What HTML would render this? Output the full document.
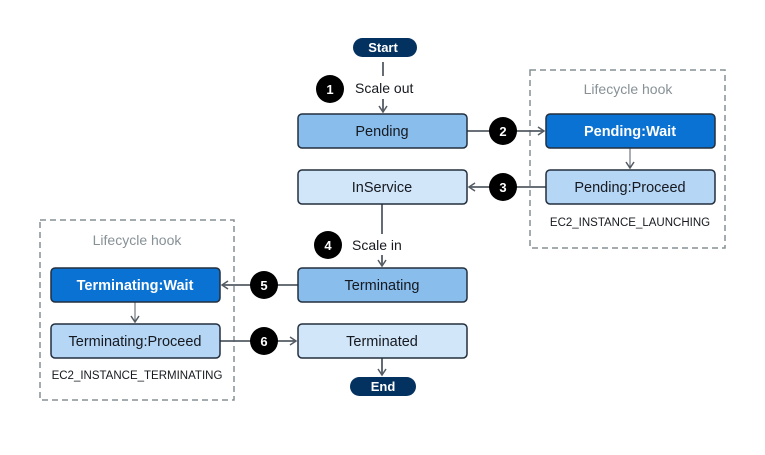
<!DOCTYPE html>
<html><head><style>body{margin:0;background:#fff}</style></head><body>
<svg width="765" height="450" viewBox="0 0 765 450" xmlns="http://www.w3.org/2000/svg" font-family="Liberation Sans, sans-serif">
<defs><marker id="a" markerWidth="10" markerHeight="10" refX="8" refY="5" orient="auto" markerUnits="userSpaceOnUse"><path d="M2,1 L8,5 L2,9" fill="none" stroke="#545b64" stroke-width="1.5"/></marker></defs>
<rect x="530" y="70" width="195" height="178" fill="none" stroke="#879196" stroke-width="1.5" stroke-dasharray="6,4"/>
<rect x="40" y="220" width="194" height="180" fill="none" stroke="#879196" stroke-width="1.5" stroke-dasharray="6,4"/>
<text x="628" y="94" font-size="14" fill="#879196" text-anchor="middle">Lifecycle hook</text>
<text x="137" y="245" font-size="14" fill="#879196" text-anchor="middle">Lifecycle hook</text>
<g stroke="#545b64" stroke-width="1.8" fill="none">
<line x1="383" y1="62" x2="383" y2="76"/>
<line x1="383" y1="99" x2="383" y2="112" marker-end="url(#a)"/>
<line x1="467" y1="131" x2="544" y2="131" marker-end="url(#a)"/>
<line x1="546" y1="187" x2="469" y2="187" marker-end="url(#a)"/>
<line x1="382" y1="204" x2="382" y2="234"/>
<line x1="382" y1="255" x2="382" y2="266" marker-end="url(#a)"/>
<line x1="298" y1="285" x2="222" y2="285" marker-end="url(#a)"/>
<line x1="220" y1="341" x2="296" y2="341" marker-end="url(#a)"/>
<line x1="382" y1="358" x2="382" y2="375" marker-end="url(#a)"/>
</g>
<g stroke="#545b64" stroke-width="1" fill="none">
<line x1="630" y1="148" x2="630" y2="168" marker-end="url(#a)"/>
<line x1="135" y1="302" x2="135" y2="322" marker-end="url(#a)"/>
</g>
<g stroke="#232f3e" stroke-width="1.5">
<rect x="298" y="114" width="169" height="34" rx="4" fill="#88bdec"/>
<rect x="546" y="114" width="169" height="34" rx="4" fill="#0a72d3"/>
<rect x="298" y="170" width="169" height="34" rx="4" fill="#d1e6f9"/>
<rect x="546" y="170" width="169" height="34" rx="4" fill="#b5d6f5"/>
<rect x="298" y="268" width="169" height="34" rx="4" fill="#88bdec"/>
<rect x="51" y="268" width="169" height="34" rx="4" fill="#0a72d3"/>
<rect x="51" y="324" width="169" height="34" rx="4" fill="#b5d6f5"/>
<rect x="298" y="324" width="169" height="34" rx="4" fill="#d1e6f9"/>
</g>
<rect x="353" y="38" width="64" height="19" rx="9.5" fill="#033160"/>
<rect x="350" y="377" width="66" height="19" rx="9.5" fill="#033160"/>
<g font-size="14.5" text-anchor="middle" fill="#16191f">
<text x="383" y="52" fill="#fff" font-weight="bold" font-size="13">Start</text>
<text x="383" y="391" fill="#fff" font-weight="bold" font-size="13">End</text>
<text x="382" y="136">Pending</text>
<text x="630" y="136" fill="#fff" font-weight="bold">Pending:Wait</text>
<text x="382" y="192">InService</text>
<text x="630" y="192">Pending:Proceed</text>
<text x="382" y="290">Terminating</text>
<text x="135" y="290" fill="#fff" font-weight="bold">Terminating:Wait</text>
<text x="135" y="346">Terminating:Proceed</text>
<text x="382" y="346">Terminated</text>
<text x="630" y="226" font-size="11.5">EC2_INSTANCE_LAUNCHING</text>
<text x="137" y="379" font-size="11.5">EC2_INSTANCE_TERMINATING</text>
<text x="355" y="93" text-anchor="start" font-size="14">Scale out</text>
<text x="352" y="250" text-anchor="start" font-size="14">Scale in</text>
</g>
<g fill="#000"><circle cx="330" cy="89" r="14"/><circle cx="503" cy="131" r="14"/><circle cx="503" cy="187" r="14"/><circle cx="328" cy="245" r="14"/><circle cx="264" cy="285" r="14"/><circle cx="264" cy="341" r="14"/></g>
<g fill="#fff" font-size="13" font-weight="bold" text-anchor="middle">
<text x="330" y="94">1</text><text x="503" y="136">2</text><text x="503" y="192">3</text><text x="328" y="250">4</text><text x="264" y="290">5</text><text x="264" y="346">6</text>
</g>
</svg>
</body></html>
